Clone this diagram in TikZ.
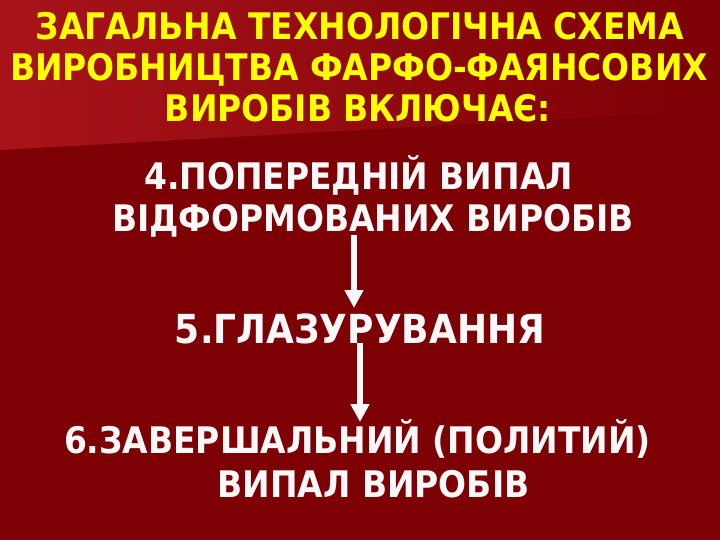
\documentclass[tikz,border=0pt]{standalone}
\usepackage{fontspec}
\setmainfont{DejaVu Sans}
\newfontfamily\condfont{DejaVu Sans Condensed}
\usetikzlibrary{arrows.meta}
\definecolor{bgbase}{RGB}{124,0,4}
\definecolor{bglight}{RGB}{168,20,26}
\definecolor{titleyellow}{RGB}{255,255,0}
\definecolor{textwhite}{RGB}{250,248,248}
\tikzset{
  titletext/.style={anchor=base, inner sep=0pt, text=titleyellow, font=\condfont\bfseries\fontsize{36.6}{40}\selectfont},
  bodytext/.style={anchor=base, inner sep=0pt, text=textwhite, font=\condfont\bfseries\fontsize{36.6}{40}\selectfont},
  bigtext/.style={bodytext, font=\condfont\bfseries\fontsize{40}{42}\selectfont},
  flow/.style={draw=textwhite, line width=6pt, -{Triangle[width=18pt,length=18pt]}}
}
\begin{document}
\begin{tikzpicture}[x=1pt,y=-1pt]
\useasboundingbox (0,0) rectangle (720,540);
\fill[bgbase] (0,0) rectangle (720,540);
\shade[left color=bglight, right color=bgbase] (0,0) -- (720,0) -- (720,110) -- (0,150) -- cycle;
% title
\node[titletext] (t1) at (360,40) {ЗАГАЛЬНА ТЕХНОЛОГІЧНА СХЕМА};
\node[titletext] (t2) at (359,81) {ВИРОБНИЦТВА ФАРФО-ФАЯНСОВИХ};
\node[titletext] (t3) at (358,122) {ВИРОБІВ ВКЛЮЧАЄ:};
% steps
\node[bodytext] (b4a) at (358.5,190) {4.ПОПЕРЕДНІЙ ВИПАЛ};
\node[bodytext] (b4b) at (373,232) {ВІДФОРМОВАНИХ ВИРОБІВ};
\node[bigtext] (b5) at (360,343) {5.ГЛАЗУРУВАННЯ};
\node[bodytext] (b6a) at (357.5,453) {6.ЗАВЕРШАЛЬНИЙ (ПОЛИТИЙ)};
\node[bodytext] (b6b) at (373.5,497) {ВИПАЛ ВИРОБІВ};
% arrows
\draw[flow] ([shift={(-19,3)}]b4b.base) -- ([shift={(-6,-35)}]b5.base);
\draw[flow] (b5.base) -- ([shift={(2.5,-31)}]b6a.base);
\end{tikzpicture}
\end{document}
